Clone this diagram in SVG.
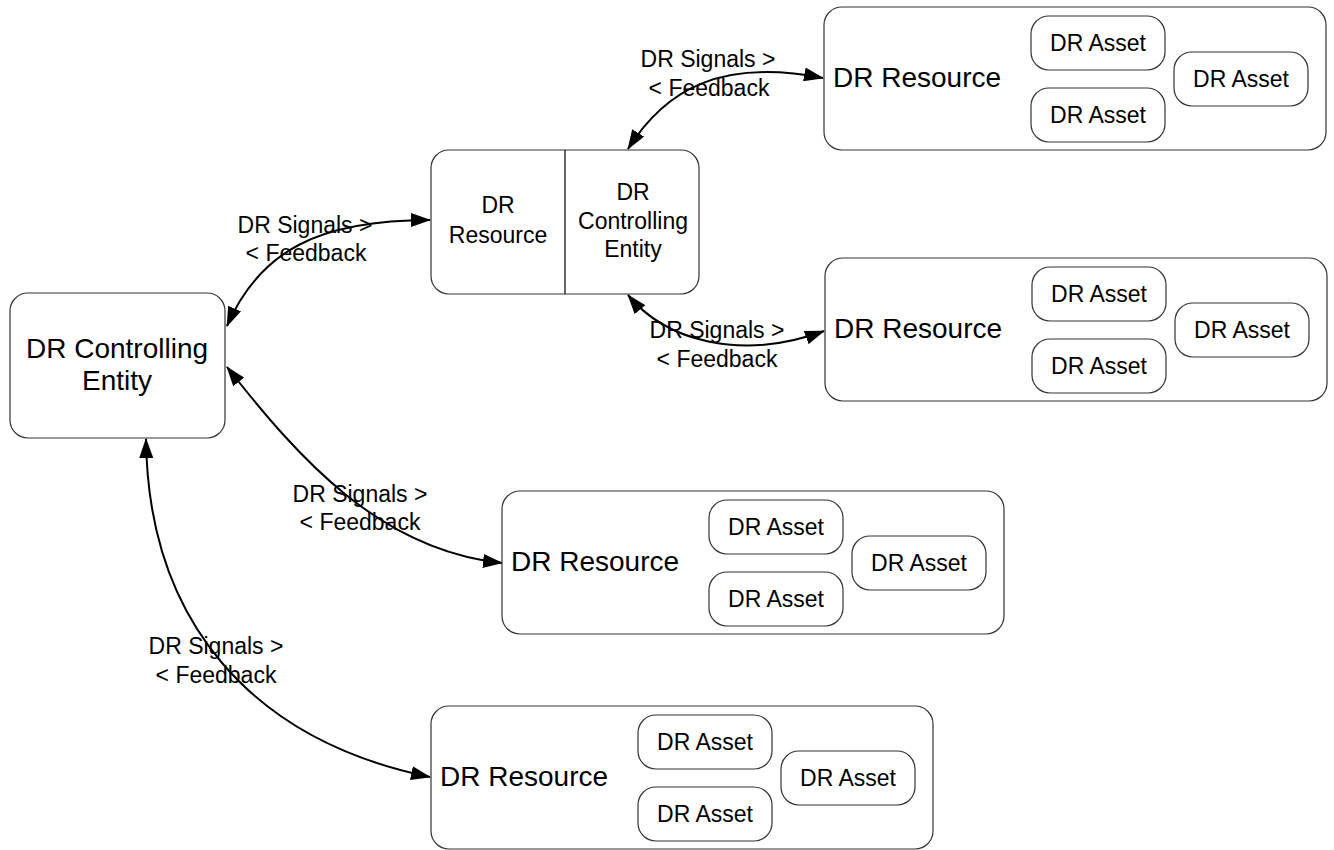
<svg xmlns="http://www.w3.org/2000/svg" width="1334" height="850" viewBox="0 0 1334 850">
<style>
text{font-family:"Liberation Sans",Arial,sans-serif;fill:#000}
.box{fill:#fff;stroke:#333;stroke-width:1.2}
.big{font-size:28px}
.med{font-size:23px}
.c{text-anchor:middle}
.conn{fill:none;stroke:#000;stroke-width:2;marker-start:url(#ah);marker-end:url(#ah)}
</style>
<defs>
<marker id="ah" markerUnits="userSpaceOnUse" markerWidth="20" markerHeight="14" refX="19" refY="7" orient="auto-start-reverse">
<path d="M0,0 L20,7 L0,14 Z" fill="#000"/>
</marker>
<g id="res">
<rect class="box" x="0" y="0" width="502" height="143" rx="18"/>
<text class="big" x="9" y="80">DR Resource</text>
<rect class="box" x="207" y="9" width="134" height="54" rx="18"/>
<text class="med c" x="274" y="44">DR Asset</text>
<rect class="box" x="207" y="81" width="134" height="54" rx="18"/>
<text class="med c" x="274" y="116">DR Asset</text>
<rect class="box" x="350" y="45" width="134" height="54" rx="18"/>
<text class="med c" x="417" y="80">DR Asset</text>
</g>
</defs>
<g id="connectors">
<path class="conn" d="M227,326 C260,250 320,220 430,220"/>
<path class="conn" d="M628,149 C665,90 720,58 823,78"/>
<path class="conn" d="M628,295 C665,340 740,362 824,331"/>
<path class="conn" d="M227,367 C300,460 380,550 502,563"/>
<path class="conn" d="M146,439 C148,620 250,740 430,777"/>
</g>
<g id="controlling-entity">
<rect class="box" x="10" y="293" width="215" height="145" rx="18"/>
<text class="big c" x="117" y="358">DR Controlling</text>
<text class="big c" x="117" y="390">Entity</text>
</g>
<g id="intermediate">
<rect class="box" x="431" y="150" width="268" height="144" rx="18"/>
<line x1="565" y1="150" x2="565" y2="294" stroke="#000" stroke-width="1.2"/>
<text class="med c" x="498" y="213">DR</text>
<text class="med c" x="498" y="243">Resource</text>
<text class="med c" x="633" y="200">DR</text>
<text class="med c" x="633" y="229">Controlling</text>
<text class="med c" x="633" y="257">Entity</text>
</g>
<g id="resource1"><use href="#res" x="824" y="7"/></g>
<g id="resource2"><use href="#res" x="825" y="258"/></g>
<g id="resource3"><use href="#res" x="502" y="491"/></g>
<g id="resource4"><use href="#res" x="431" y="706"/></g>
<g id="labels">
<text class="med c" x="305" y="233">DR Signals &gt;</text>
<text class="med c" x="306" y="261">&lt; Feedback</text>
<text class="med c" x="708" y="67">DR Signals &gt;</text>
<text class="med c" x="709" y="96">&lt; Feedback</text>
<text class="med c" x="717" y="338">DR Signals &gt;</text>
<text class="med c" x="717" y="367">&lt; Feedback</text>
<text class="med c" x="360" y="502">DR Signals &gt;</text>
<text class="med c" x="360" y="530">&lt; Feedback</text>
<text class="med c" x="216" y="654">DR Signals &gt;</text>
<text class="med c" x="216" y="683">&lt; Feedback</text>
</g>
</svg>
